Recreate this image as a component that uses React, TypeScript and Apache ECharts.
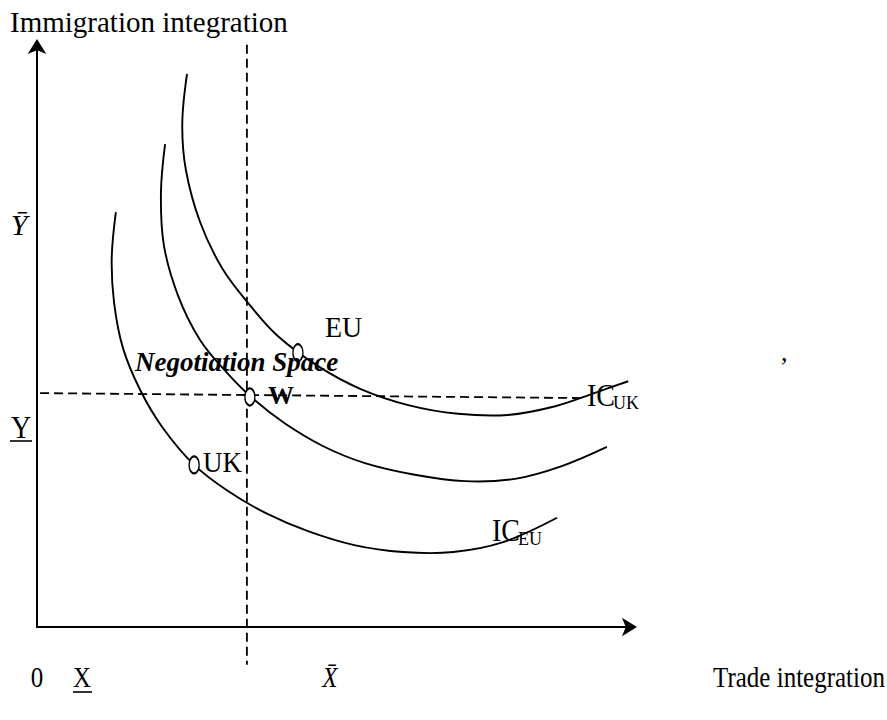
import React, { useEffect, useRef } from "react";
import * as echarts from "echarts";

// Indifference curves (x = trade integration, y = immigration integration, 0..100 scale)
const icEU: number[][] = [
  [13.3, 71.4], [12.6, 63.5], [13.0, 55.8], [14.5, 48.0], [17.4, 40.8], [21.2, 34.3],
  [26.5, 27.9], [32.2, 23.4], [38.6, 19.6], [45.7, 16.5], [53.5, 14.1], [61.7, 12.9],
  [70.2, 12.9], [78.6, 14.6], [87.7, 18.8],
];
const icMid: number[][] = [
  [21.6, 83.1], [20.9, 74.7], [21.4, 65.7], [23.8, 57.0], [27.5, 49.4], [31.9, 43.9],
  [36.3, 39.4], [41.7, 35.1], [48.1, 31.2], [55.3, 28.2], [63.7, 26.2], [72.2, 25.1],
  [80.6, 25.5], [88.5, 27.7], [96.1, 31.0],
];
const icUK: number[][] = [
  [25.3, 95.2], [24.5, 86.7], [25.1, 78.7], [27.5, 69.7], [31.2, 61.8], [35.9, 55.4],
  [40.6, 50.1], [47.4, 44.9], [54.5, 41.0], [62.6, 38.2], [71.0, 36.7], [79.4, 36.5],
  [87.4, 38.0], [94.1, 40.3], [99.7, 42.3],
];
const curveNames = ["IC_EU", "IC", "IC_UK"];
const pointNames = ["W", "EU", "UK"];
const pointValues: number[][] = [[35.9, 39.6], [44.0, 47.2], [26.5, 27.9]];
const vGuide: number[][] = [[35.4, 100.2], [35.4, -6.5]];
const hGuide: number[][] = [[-4.2, 40.3], [92.1, 39.4]];
const axisTitles = ["Immigration integration", "Trade integration"];
const xTickLabels = ["0", "X", "X\u0304"];
const yTickLabels = ["\u0232", "Y"];
const curveLabels = ["IC", "UK", "EU"];
const areaLabel = "Negotiation Space";

const SERIF = "'Liberation Serif', 'Times New Roman', serif";

function txt(text: string, x: number, y: number, o: any = {}) {
  return {
    type: "text",
    x,
    y,
    scaleY: o.scaleY ?? 1,
    style: {
      text,
      fill: "#000",
      fontSize: o.size ?? 26,
      fontFamily: SERIF,
      fontStyle: o.italic ? "italic" : "normal",
      fontWeight: o.bold ? "bold" : "normal",
      textAlign: o.align ?? "left",
      align: o.align ?? "left",
      textVerticalAlign: "middle",
      verticalAlign: "middle",
    },
    z: 10,
  };
}

function uline(x1: number, x2: number, y: number) {
  return {
    type: "line",
    shape: { x1, y1: y, x2, y2: y },
    style: { stroke: "#000", lineWidth: 1.6 },
    z: 10,
  };
}

function curveSeries(name: string, pts: number[][]) {
  return {
    name,
    type: "custom",
    data: pts,
    encode: { x: 0, y: 1 },
    clip: false,
    silent: true,
    renderItem: (params: any, api: any) => {
      if (params.dataIndex !== 0) return null;
      const points = pts.map((p) => api.coord(p));
      return {
        type: "polyline",
        shape: { points, smooth: 0.36 },
        style: { stroke: "#000", lineWidth: 1.9, fill: null },
      };
    },
  };
}

export default function App() {
  const ref = useRef<HTMLDivElement>(null);
  useEffect(() => {
    if (!ref.current) return;
    const chart = echarts.init(ref.current, null, { renderer: "svg" });
    const dashStyle = { color: "#000", width: 1.8, type: [9, 5] as any };
    const axisCommon = {
      type: "value" as const,
      min: 0,
      max: 100,
      splitLine: { show: false },
      axisTick: { show: false },
      axisLabel: { show: false },
      axisLine: {
        show: true,
        onZero: false,
        symbol: ["none", "arrow"],
        symbolSize: [14, 15],
        symbolOffset: [0, 7],
        lineStyle: { color: "#000", width: 2 },
      },
    };
    chart.setOption({
      animation: false,
      backgroundColor: "#fff",
      grid: { left: 37, right: 257, top: 46, bottom: 93, containLabel: false },
      xAxis: { ...axisCommon },
      yAxis: { ...axisCommon },
      series: [
        curveSeries(curveNames[0], icEU),
        curveSeries(curveNames[1], icMid),
        curveSeries(curveNames[2], icUK),
        { name: "vguide", type: "line", data: vGuide, showSymbol: false, lineStyle: dashStyle, silent: true, clip: false },
        { name: "hguide", type: "line", data: hGuide, showSymbol: false, lineStyle: dashStyle, silent: true, clip: false },
        {
          name: "points",
          type: "scatter",
          data: pointNames.map((n, i) => ({ name: n, value: pointValues[i] })),
          symbol: "circle",
          symbolSize: [10, 17],
          itemStyle: { color: "#fff", borderColor: "#000", borderWidth: 1.7, opacity: 1 },
          z: 5,
          silent: true,
        },
      ],
      graphic: [
        txt(axisTitles[0], 10, 22, { size: 29 }),
        txt(yTickLabels[0], 19, 224, { size: 30, italic: true, align: "center" }),
        txt(yTickLabels[1], 21, 428, { size: 28, align: "center", scaleY: 1.1 }),
        uline(10, 32, 441),
        txt(xTickLabels[0], 37, 677, { size: 25, align: "center", scaleY: 1.2 }),
        txt(xTickLabels[1], 82, 677, { size: 25, align: "center", scaleY: 1.2 }),
        uline(73, 92, 692),
        txt(xTickLabels[2], 330, 677, { size: 25, italic: true, align: "center", scaleY: 1.2 }),
        txt(axisTitles[1], 885, 677, { size: 25, align: "right", scaleY: 1.2 }),
        txt(pointNames[1], 325, 327, { size: 28, scaleY: 1.05 }),
        txt(pointNames[2], 203, 462, { size: 27, scaleY: 1.08 }),
        txt(pointNames[0], 268, 395, { size: 26, bold: true }),
        txt(areaLabel, 135, 362, { size: 27, bold: true, italic: true }),
        txt(curveLabels[0], 587, 395, { size: 28, scaleY: 1.15 }),
        txt(curveLabels[1], 613, 403, { size: 18 }),
        txt(curveLabels[0], 492, 530, { size: 28, scaleY: 1.15 }),
        txt(curveLabels[2], 518, 539, { size: 18 }),
        txt(",", 781, 352, { size: 26 }),
      ],
    });
    return () => chart.dispose();
  }, []);
  return (
    <div
      ref={ref}
      style={{ position: "absolute", left: 0, top: 0, width: 887, height: 720, background: "#fff" }}
    />
  );
}
